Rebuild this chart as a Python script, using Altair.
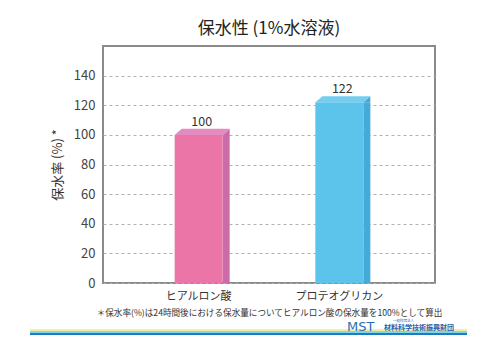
import altair as alt
import pandas as pd

categories = ["ヒアルロン酸", "プロテオグリカン"]
values = [100, 122]
front_colors = ["#EB75A6", "#5CC4EA"]
top_colors = ["#E48CC1", "#74CEEF"]
side_colors = ["#CB6CA9", "#45AAD7"]
y_ticks = [0, 20, 40, 60, 80, 100, 120, 140]

title_text = "保水性 (1%水溶液)"
y_title = "保水率 (%) *"
footnote = "＊保水率(%)は24時間後における保水量についてヒアルロン酸の保水量を100%として算出"
logo_main = "MST"
logo_sub = "材料科学技術振興財団"
logo_small = "一般財団法人"

FONT = "Noto Sans CJK JP"

df = pd.DataFrame({
    "cat": categories, "val": values,
    "front": front_colors, "top": top_colors, "side": side_colors,
})

x_enc = alt.X(
    "cat:N",
    sort=categories,
    scale=alt.Scale(paddingInner=0, paddingOuter=0.18),
    axis=alt.Axis(
        title=footnote,
        labelAngle=0,
        labelFontSize=11,
        labelColor="#333333",
        labelPadding=7,
        titleFontSize=8.6,
        titleFontWeight="normal",
        titleColor="#333333",
        titlePadding=7,
        domain=False,
        ticks=False,
        labelFont=FONT,
        titleFont=FONT,
    ),
)
y_enc = alt.Y(
    "val:Q",
    stack=None,
    scale=alt.Scale(domain=[0, 160], nice=False),
    axis=alt.Axis(
        title=y_title,
        values=y_ticks,
        labelFontSize=13,
        labelColor="#444444",
        labelPadding=8,
        titleFontSize=13,
        titleFontWeight="normal",
        titleColor="#333333",
        titlePadding=9,
        domain=False,
        ticks=False,
        grid=True,
        gridDash=[3, 3],
        gridColor="#b0b0b0",
        gridWidth=1,
        labelFont=FONT,
        titleFont=FONT,
    ),
)

base = alt.Chart(df)

side = base.mark_bar(size=7, xOffset=27.5).encode(
    x=x_enc, y=y_enc, color=alt.Color("side:N", scale=None),
)

side_top = base.mark_point(
    shape="M0.774,0 L1,-0.194 L1,0 Z",
    size=3844, filled=True, opacity=1, strokeWidth=0,
).encode(
    x=x_enc, y=y_enc, color=alt.Color("side:N", scale=None),
)

front = base.mark_bar(size=48).encode(
    x=x_enc, y=y_enc, color=alt.Color("front:N", scale=None),
)

top = base.mark_point(
    shape="M-0.774,0 L0.774,0 L1,-0.194 L-0.548,-0.194 Z",
    size=3844, filled=True, opacity=1, strokeWidth=0,
).encode(
    x=x_enc, y=y_enc, color=alt.Color("top:N", scale=None),
)

labels = base.mark_text(dy=-13, dx=3, fontSize=12.5, color="#333333", font=FONT, baseline="middle").encode(
    x=x_enc, y=y_enc, text="val:Q"
)

stripe_df = pd.DataFrame({"k": [0]})
stripes = []
for col, yy in [("#F3EFA0", 284), ("#7FD6E6", 286), ("#1E79C6", 288)]:
    stripes.append(
        alt.Chart(stripe_df).mark_rule(color=col, strokeWidth=2).encode(
            x=alt.value(-73), x2=alt.value(364), y=alt.value(yy)
        )
    )

logo1 = alt.Chart(stripe_df).mark_text(
    text=logo_main, fontSize=13, color="#2A6FB5", font="DejaVu Sans", align="left", baseline="middle",
    fontWeight="normal",
).encode(x=alt.value(244), y=alt.value(281))
logo2 = alt.Chart(stripe_df).mark_text(
    text=logo_sub, fontSize=7, color="#2A5FA8", font=FONT, align="left", baseline="middle",
    fontWeight="bold",
).encode(x=alt.value(281), y=alt.value(281.5))
logo3 = alt.Chart(stripe_df).mark_text(
    text=logo_small, fontSize=3.5, color="#2A5FA8", font=FONT, align="left", baseline="middle",
).encode(x=alt.value(290), y=alt.value(274.5))

chart = alt.layer(side, side_top, front, top, labels, *stripes, logo1, logo2, logo3).properties(
    width=332,
    height=237,
    title=alt.TitleParams(
        text=title_text, fontSize=17, font=FONT, fontWeight="normal", color="#222222",
        anchor="middle", offset=8,
    ),
    autosize=alt.AutoSizeParams(type="none"),
    padding={"left": 103, "top": 46, "right": 65, "bottom": 67},
    background="white",
).configure_view(
    stroke="#8a8a8a", strokeWidth=2
)

chart.save("out.html", embed_options={"renderer": "svg", "actions": False})
